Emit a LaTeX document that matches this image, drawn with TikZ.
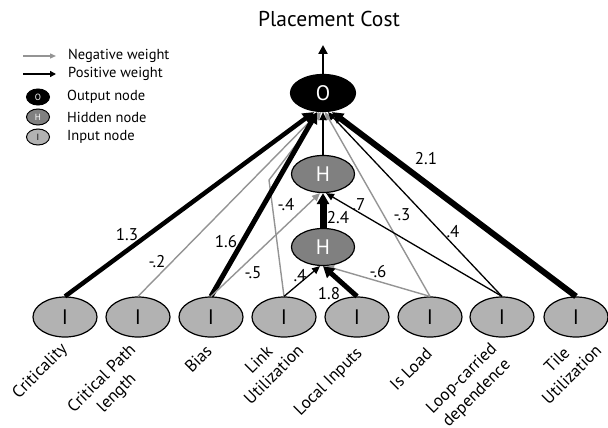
\documentclass[tikz,border=0pt]{standalone}
\usepackage{fontspec}
\setmainfont{PT Sans}
\usetikzlibrary{arrows.meta,shapes.geometric,calc}
\definecolor{negc}{gray}{0.58}
\definecolor{inpc}{gray}{0.70}
\definecolor{hidc}{gray}{0.50}
\begin{document}
\begin{tikzpicture}[x=1pt,y=-1pt,
  inp/.style={ellipse,draw,line width=1.2pt,fill=inpc,minimum width=64pt,minimum height=40pt,inner sep=0pt,font=\fontsize{21}{21}\selectfont},
  hid/.style={ellipse,draw,line width=1.2pt,fill=hidc,minimum width=63pt,minimum height=37pt,inner sep=0pt,text=white,font=\fontsize{21}{21}\selectfont},
  outn/.style={ellipse,draw,line width=1.2pt,fill=black,minimum width=65pt,minimum height=37pt,inner sep=0pt,text=white,font=\fontsize{21}{21}\selectfont},
  leginp/.style={ellipse,draw,line width=1pt,fill=inpc,minimum width=23pt,minimum height=16pt,inner sep=0pt,font=\fontsize{9}{9}\selectfont},
  leghid/.style={leginp,fill=hidc,text=white},
  legout/.style={leginp,fill=black,text=white},
  posedge/.style={draw=black,line width=1.3pt,-{Triangle[length=8pt,width=7pt]}},
  thickedge/.style={draw=black,-{Triangle[length=11pt,width=12pt]}},
  negedge/.style={draw=negc,line width=1.4pt,-{Triangle[length=8pt,width=7pt]}},
  wlab/.style={font=\fontsize{17}{17}\selectfont,inner sep=0pt},
  leglab/.style={font=\fontsize{14.5}{14.5}\selectfont,inner sep=0pt,anchor=west},
  axlab/.style={font=\fontsize{17}{21}\selectfont,rotate=45,anchor=east,align=center,inner sep=0pt}
]
\useasboundingbox (0,0) rectangle (608,428);

% title and output
\node[font=\fontsize{21.5}{21.5}\selectfont,inner sep=0pt] (title) at (329,19) {Placement Cost};
\node[outn] (O) at (323,93) {O};
\coordinate (otop) at (323,45);
\draw[draw=black,line width=2.5pt,-{Triangle[length=9pt,width=9pt]}] (O.north) -- (otop);

% hidden
\node[hid] (H2) at (323,174) {H};
\node[hid] (H1) at (323,247) {H};

% inputs
\foreach \n/\x in {1/65,2/138,3/211,4/284,5/357,6/430,7/502,8/576}
  \node[inp] (i\n) at (\x,317) {I};

% axis labels
\node[axlab] (l1) at (65,347) {Criticality};
\node[axlab] (l2) at (141,355) {Critical Path\\length};
\node[axlab] (l3) at (209,348) {Bias};
\node[axlab] (l4) at (293,340) {Link\\Utilization};
\node[axlab] (l5) at (360,351) {Local Inputs};
\node[axlab] (l6) at (429,351) {Is Load};
\node[axlab] (l7) at (502,354) {Loop-carried\\dependence};
\node[axlab] (l8) at (591,340) {Tile\\Utilization};

% edges to O
\coordinate (bend) at (269,180);
\draw[negedge] (i2.north) -- ($(O.south)+(-4,0)$);
\draw[negedge] (i4.north) -- (bend) -- ($(O.south)+(-2,0)$);
\draw[negedge] (i6.north) -- ($(O.south)+(2,0)$);
\draw[posedge] (i7.north) -- ($(O.south)+(5,0)$);
\draw[thickedge,line width=4.5pt] (i1.north) -- ($(O.south)+(-9,0)$);
\draw[thickedge,line width=5pt] (i3.north) -- ($(O.south)+(-6,0)$);
\draw[thickedge,line width=6pt] (i8.north) -- ($(O.south)+(9,0)$);
\draw[posedge] (H2.north) -- (O.south);

% edges to upper H
\draw[negedge] (i3.north) -- ($(H2.south)+(-3,0)$);
\draw[posedge] (i7.north) -- ($(H2.south)+(3,0)$);
\draw[thickedge,line width=7pt] (H1.north) -- (H2.south);

% edges to lower H
\draw[posedge] (i4.north) -- ($(H1.south)+(-3,0)$);
\draw[negedge] (i6.north) -- ($(H1.south)+(3,0)$);
\draw[thickedge,line width=5pt] (i5.north) -- (H1.south);

% weight labels
\node[wlab] (w1) at (127,235) {1.3};
\node[wlab] (w2) at (157,262) {-.2};
\node[wlab] (w3) at (226,242) {1.6};
\node[wlab] (w4) at (253,273) {-.5};
\node[wlab] (w5) at (286,205) {-.4};
\node[wlab] (w6) at (300,276) {.4};
\node[wlab] (w7) at (329,294) {1.8};
\node[wlab] (w8) at (338,218) {2.4};
\node[wlab] (w9) at (359,205) {.7};
\node[wlab] (w10) at (378,272) {-.6};
\node[wlab] (w11) at (402,215) {-.3};
\node[wlab] (w12) at (453,232) {.4};
\node[wlab] (w13) at (426,159) {2.1};

% legend
\coordinate (ga) at (23,56); \coordinate (gb) at (56,56);
\coordinate (ba) at (23,74); \coordinate (bb) at (56,74);
\draw[draw=negc,line width=1.3pt,-{Triangle[length=6pt,width=5pt]}] (ga) -- (gb);
\draw[draw=black,line width=2pt,-{Triangle[length=6pt,width=6pt]}] (ba) -- (bb);
\node[leglab] (t1) at (68,56) {Negative weight};
\node[leglab] (t2) at (68,74) {Positive weight};
\node[legout] (lo) at (38,97) {O};
\node[leghid] (lh) at (38,117) {H};
\node[leginp] (li) at (38,137) {I};
\node[leglab] (t3) at (67,97) {Output node};
\node[leglab] (t4) at (67,117) {Hidden node};
\node[leglab] (t5) at (67,137) {Input node};
\end{tikzpicture}
\end{document}
